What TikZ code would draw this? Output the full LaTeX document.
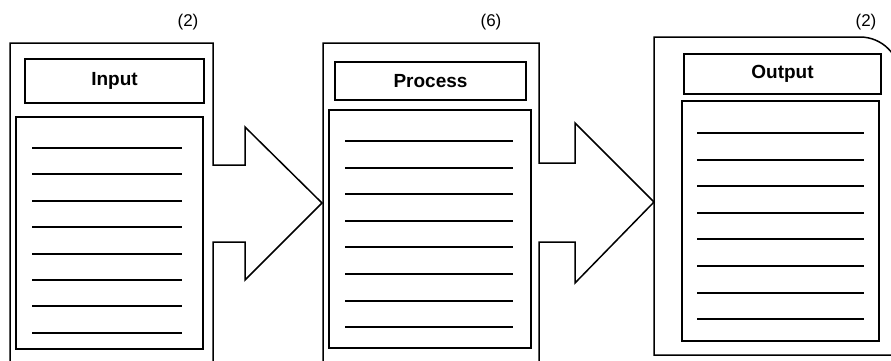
\documentclass[tikz,border=0pt]{standalone}
\usepackage{fontspec}
\setmainfont{Liberation Sans}
\begin{document}
\begin{tikzpicture}[x=1pt,y=-1pt,
  outline/.style={draw=black,line width=1.5pt,line join=miter},
  titlebox/.style={draw=black,line width=1.4pt,inner sep=0pt,font=\fontsize{19}{22}\selectfont\bfseries},
  listbox/.style={draw=black,line width=1.4pt,inner sep=0pt},
  rule/.style={draw=black,line width=1.5pt},
  countlabel/.style={inner sep=0pt,font=\fontsize{17}{20}\selectfont}]
\useasboundingbox (0,0) rectangle (891,360);
\clip (0,0) rectangle (891,360);
% outer frames with block arrows
\draw[outline] (213,370) -- (213,242) -- (245,242) -- (245,280) -- (322,203)
  -- (245,127) -- (245,165) -- (213,165) -- (213,43) -- (10,43) -- (10,370);
\draw[outline] (539,370) -- (539,242) -- (575,242) -- (575,283) -- (654,202)
  -- (575,123) -- (575,163) -- (539,163) -- (539,43) -- (323,43) -- (323,370);
\draw[outline] (654,355) -- (654,37) -- (860,37) arc[start angle=-90,end angle=0,radius=40] -- (900,355) -- cycle;
% count labels
\node[countlabel] (c1) at (188,22) {(2)};
\node[countlabel] (c2) at (491,22) {(6)};
\node[countlabel] (c3) at (866,22) {(2)};
% titles
\node[titlebox,minimum width=179pt,minimum height=44pt] (input) at (114.5,81) {Input};
\node[titlebox,minimum width=191pt,minimum height=38pt] (process) at (430.5,81) {Process};
\node[titlebox,minimum width=197pt,minimum height=40pt] (output) at (782.5,74) {Output};
% list boxes
\node[listbox,minimum width=187pt,minimum height=232pt] (inlist) at (109.5,233) {};
\node[listbox,minimum width=202pt,minimum height=238pt] (prlist) at (430,229) {};
\node[listbox,minimum width=197pt,minimum height=240pt] (outlist) at (780.5,221) {};
% ruled lines
\foreach \k in {0,...,7} {
  \pgfmathsetmacro{\ya}{round(148+26.4*\k)}
  \pgfmathsetmacro{\yb}{round(141+26.6*\k)}
  \pgfmathsetmacro{\yc}{round(133+26.6*\k)}
  \draw[rule] (32,\ya) -- (182,\ya);
  \draw[rule] (345,\yb) -- (513,\yb);
  \draw[rule] (697,\yc) -- (864,\yc);
}
\end{tikzpicture}
\end{document}
